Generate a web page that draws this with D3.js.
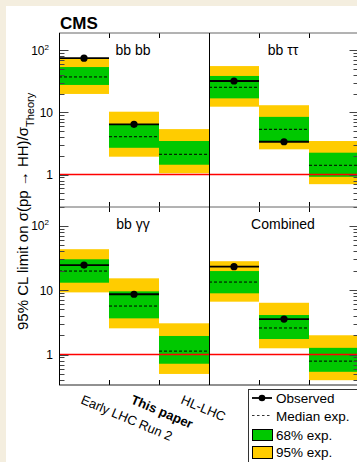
<!DOCTYPE html>
<html lang="en">
<head>
<meta charset="UTF-8">
<title>HH limits</title>
<script src="https://d3js.org/d3.v7.min.js"></script>
<style>
  body { margin: 0; background: #f4eedf; }
  svg { display: block; }
  text { font-family: "Liberation Sans", Arial, Helvetica, sans-serif; }
</style>
</head>
<body>
<div id="chart"></div>
<script>
// categories and channels
const categories = ["Early LHC Run 2", "This paper", "HL-LHC"];
const channels = ["bb bb", "bb \u03c4\u03c4", "bb \u03b3\u03b3", "Combined"];

// values per channel, one entry per category (null = no observed limit)
const observed = [[75, 6.45, null], [32.2, 3.38, null], [24.4, 8.6, null], [23, 3.55, null]];
const median   = [[37.4, 4.07, 2.12], [25.5, 5.36, 1.41], [19.7, 5.65, 1.13], [13.3, 2.58, 0.79]];
const lo68     = [[27.8, 2.7, 1.44], [16.9, 3.38, 0.92], [13, 3.64, 0.72], [8.9, 1.74, 0.54]];
const hi68     = [[54, 6.5, 3.47], [38.8, 8.5, 2.25], [30, 9.55, 1.94], [19.7, 4.1, 1.27]];
const lo95     = [[19.9, 1.94, 1.05], [12.4, 2.55, 0.70], [9.2, 2.55, 0.50], [6.6, 1.25, 0.40]];
const hi95     = [[75, 10.3, 5.4], [56, 13.1, 3.47], [43, 15.2, 3.05], [28, 6.35, 1.99]];

const tickLabels = [[1, "1"], [10, "10"], [100, "10", "2"]];

const width = 357, height = 462;
const green = "#00c800", yellow = "#ffcc00";

const svg = d3.select("#chart").append("svg")
  .attr("width", width).attr("height", height);

svg.append("rect").attr("x", 6).attr("y", 6)
  .attr("width", width).attr("height", height).attr("fill", "#fff");

const colX = [59, 209], colW = 150;
const rows = [
  { top: 33, bottom: 207, domain: [0.3, 191] },
  { top: 207, bottom: 385, domain: [0.337, 194] }
];

channels.forEach((name, i) => {
  const row = rows[Math.floor(i / 2)], col = i % 2;
  const x0 = colX[col];
  const x = d3.scaleBand().domain(categories).range([x0, x0 + colW]).padding(0);
  const y = d3.scaleLog().domain(row.domain).range([row.bottom, row.top]);
  const g = svg.append("g");

  categories.forEach((c, j) => {
    g.append("rect").attr("x", x(c)).attr("width", x.bandwidth())
      .attr("y", y(hi95[i][j])).attr("height", y(lo95[i][j]) - y(hi95[i][j]))
      .attr("fill", yellow);
    g.append("rect").attr("x", x(c)).attr("width", x.bandwidth())
      .attr("y", y(hi68[i][j])).attr("height", y(lo68[i][j]) - y(hi68[i][j]))
      .attr("fill", green);
    g.append("line").attr("x1", x(c)).attr("x2", x(c) + x.bandwidth())
      .attr("y1", y(median[i][j])).attr("y2", y(median[i][j]))
      .attr("stroke", "#000").attr("stroke-width", 1).attr("stroke-dasharray", "3,2");
    if (observed[i][j] != null) {
      g.append("line").attr("x1", x(c)).attr("x2", x(c) + x.bandwidth())
        .attr("y1", y(observed[i][j])).attr("y2", y(observed[i][j]))
        .attr("stroke", "#000").attr("stroke-width", 1.8);
      g.append("circle").attr("cx", x(c) + x.bandwidth() / 2).attr("cy", y(observed[i][j]))
        .attr("r", 3.6).attr("fill", "#000");
    }
  });

  // theory line
  g.append("line").attr("x1", x0).attr("x2", x0 + colW)
    .attr("y1", y(1)).attr("y2", y(1))
    .attr("stroke", "#ff0000").attr("stroke-width", 1.5);

  // channel label
  g.append("text").attr("x", x0 + colW / 2 - 1).attr("y", row.top + 22)
    .attr("text-anchor", "middle").style("font-size", "14px").text(name);

  // y ticks: left side for left column, right side for right column
  const ticks = y.ticks().filter(v => v >= row.domain[0] && v <= row.domain[1]);
  const edge = col === 0 ? x0 + 0.5 : x0 + colW - 0.5;
  const dir = col === 0 ? 1 : -1;
  ticks.forEach(v => {
    const major = Math.abs(Math.log10(v) - Math.round(Math.log10(v))) < 1e-6;
    const yy = Math.round(y(v)) + 0.5;
    g.append("line").attr("x1", edge).attr("x2", edge + dir * (major ? 9 : 5))
      .attr("y1", yy).attr("y2", yy).attr("stroke", "#444").attr("stroke-width", 1);
  });
  if (col === 0) {
    tickLabels.forEach(t => {
      const tx = g.append("text").attr("x", x0 - 6).attr("y", y(t[0]) + 4.5)
        .attr("text-anchor", "end").style("font-size", "12px");
      if (t[2]) {
        tx.attr("x", x0 - 10);
        tx.append("tspan").text(t[1]);
        tx.append("tspan").attr("dy", -5).style("font-size", "8px").text(t[2]);
      } else {
        tx.text(t[1]);
      }
    });
  }

  // x ticks at category boundaries (top and bottom)
  categories.slice(1).forEach(c => {
    const xx = Math.round(x(c)) + 0.5;
    g.append("line").attr("x1", xx).attr("x2", xx).attr("y1", row.bottom).attr("y2", row.bottom - 5)
      .attr("stroke", "#000");
    g.append("line").attr("x1", xx).attr("x2", xx).attr("y1", row.top).attr("y2", row.top + 5)
      .attr("stroke", "#000");
  });
});

// frame
const frame = svg.append("g").attr("stroke", "#000").attr("stroke-width", 1).attr("fill", "none");
[33, 207, 385].forEach(yy => frame.append("line").attr("x1", 59).attr("x2", 360)
  .attr("y1", yy).attr("y2", yy).attr("stroke", yy === 385 ? "#222" : "#666"));
[59.5, 209.5, 359.5].forEach(xx => frame.append("line").attr("x1", xx).attr("x2", xx)
  .attr("y1", 33).attr("y2", 385));

// category labels
const xb = d3.scaleBand().domain(categories).range([59, 209]);
categories.forEach(c => {
  svg.append("text")
    .attr("transform", `translate(${xb(c) + xb.bandwidth() / 2 - 4},403) rotate(23)`)
    .style("font-size", "13px")
    .style("font-weight", c === "This paper" ? "bold" : null)
    .text(c);
});

// CMS label
svg.append("text").attr("x", 60).attr("y", 29)
  .style("font-size", "17px").style("font-weight", "bold").text("CMS");

// y title
const yt = svg.append("text").attr("transform", "translate(27.5,330) rotate(-90)")
  .style("font-size", "15px");
yt.append("tspan").text("95% CL limit on \u03c3(pp \u2192 HH)/\u03c3");
yt.append("tspan").attr("dy", 6).style("font-size", "11px").text("Theory");

// legend
const lg = svg.append("g");
lg.append("rect").attr("x", 248.5).attr("y", 389.5).attr("width", 120).attr("height", 80)
  .attr("fill", "#fff").attr("stroke", "#333");
const lx = 252, lw = 20, tx = 276;
lg.append("line").attr("x1", lx).attr("x2", lx + lw).attr("y1", 398).attr("y2", 398)
  .attr("stroke", "#000").attr("stroke-width", 1.8);
lg.append("circle").attr("cx", lx + lw / 2).attr("cy", 398).attr("r", 3.3);
lg.append("line").attr("x1", lx).attr("x2", lx + lw).attr("y1", 415.5).attr("y2", 415.5)
  .attr("stroke", "#000").attr("stroke-width", 0.8).attr("stroke-dasharray", "2.5,2.5");
lg.append("rect").attr("x", lx + 0.5).attr("y", 429.5).attr("width", lw).attr("height", 11)
  .attr("fill", green).attr("stroke", "#000");
lg.append("rect").attr("x", lx + 0.5).attr("y", 446.5).attr("width", lw).attr("height", 12)
  .attr("fill", yellow).attr("stroke", "#000");
[["Observed", 398.3], ["Median exp.", 415.7], ["68% exp.", 435], ["95% exp.", 452]].forEach(d => {
  lg.append("text").attr("x", tx).attr("y", d[1] + 5).style("font-size", "13.5px").text(d[0]);
});
</script>
</body>
</html>
